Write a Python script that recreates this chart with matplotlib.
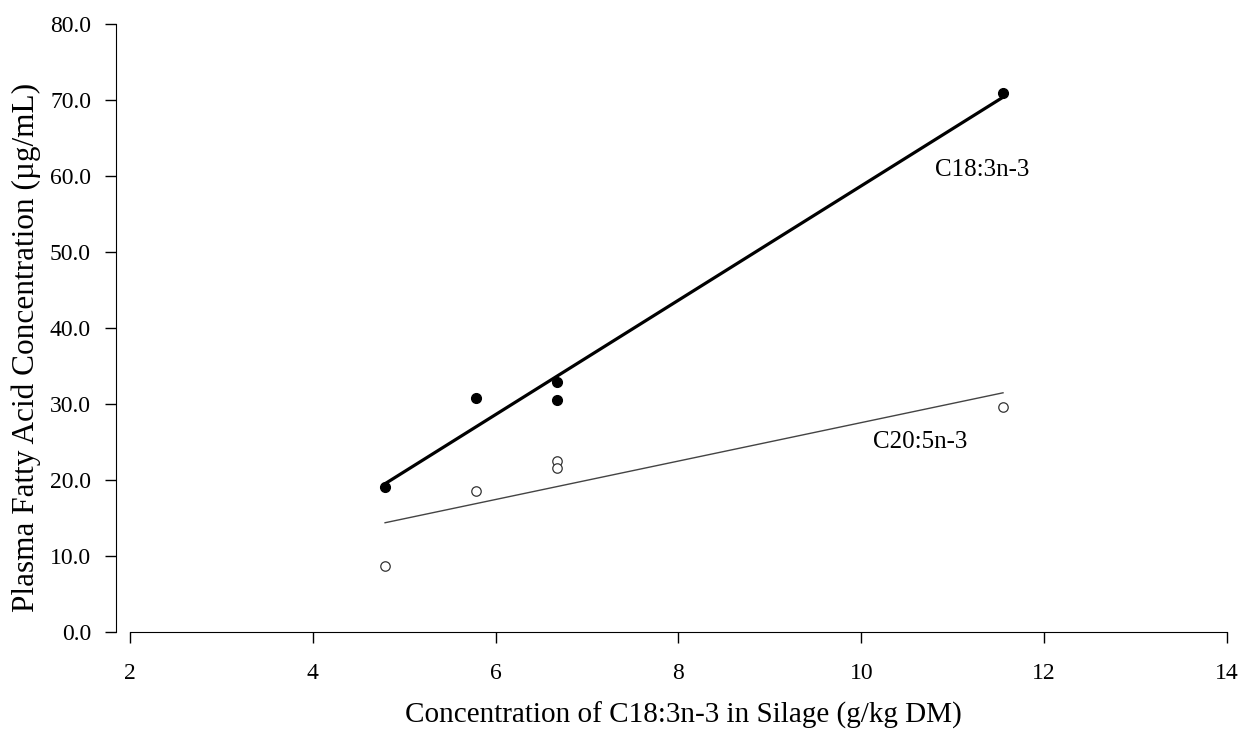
import numpy as np
import matplotlib
matplotlib.use("Agg")
import matplotlib.pyplot as plt

plt.rcParams['font.family'] = ['Liberation Serif', 'DejaVu Serif']

silage_x = [4.79, 5.78, 6.67, 6.67, 11.55]
c18_3 = [19.1, 30.75, 32.9, 30.5, 70.9]
c20_5 = [8.7, 18.6, 22.5, 21.6, 29.6]
x_ticks = [2, 4, 6, 8, 10, 12, 14]
y_ticks = [0, 10, 20, 30, 40, 50, 60, 70, 80]

fig = plt.figure(figsize=(12.41, 7.31), dpi=100)
ax = fig.add_axes([0.0935, 0.1354, 0.8952, 0.8318])

xs = np.array(silage_x)
xr = np.array([xs.min(), xs.max()])
p1 = np.polyfit(xs, c18_3, 1)
p2 = np.polyfit(xs, c20_5, 1)
ax.plot(xr, np.polyval(p1, xr), color='black', lw=2.3, zorder=2)
ax.plot(xr, np.polyval(p2, xr), color='#444444', lw=1.0, zorder=2)

ax.plot(silage_x, c18_3, 'o', color='black', ms=7, zorder=3)
ax.plot(silage_x, c20_5, 'o', mfc='white', mec='#333333', mew=0.9, ms=6.8, zorder=3)

ax.text(10.81, 60.8, 'C18:3n-3', fontsize=18, va='center', ha='left')
ax.text(10.13, 25.0, 'C20:5n-3', fontsize=18, va='center', ha='left')

ax.set_xlim(1.847, 14)
ax.set_ylim(0, 80)
ax.spines['top'].set_visible(False)
ax.spines['right'].set_visible(False)
ax.spines['bottom'].set_bounds(2, 14)
ax.set_xticks(x_ticks)
ax.set_xticklabels([str(v) for v in x_ticks])
ax.set_yticks(y_ticks)
ax.set_yticklabels([f'{v:.1f}' for v in y_ticks])
ax.tick_params(axis='x', length=8, width=1, pad=14, labelsize=17)
ax.tick_params(axis='y', length=8, width=1, pad=10, labelsize=17)

fig.text(0.551, 0.003, 'Concentration of C18:3n-3 in Silage (g/kg DM)', fontsize=21,
         ha='center', va='bottom')
fig.text(0.009, 0.525, 'Plasma Fatty Acid Concentration (µg/mL)', fontsize=22.5,
         ha='left', va='center', rotation=90)

fig.savefig('out.png', dpi=100)
